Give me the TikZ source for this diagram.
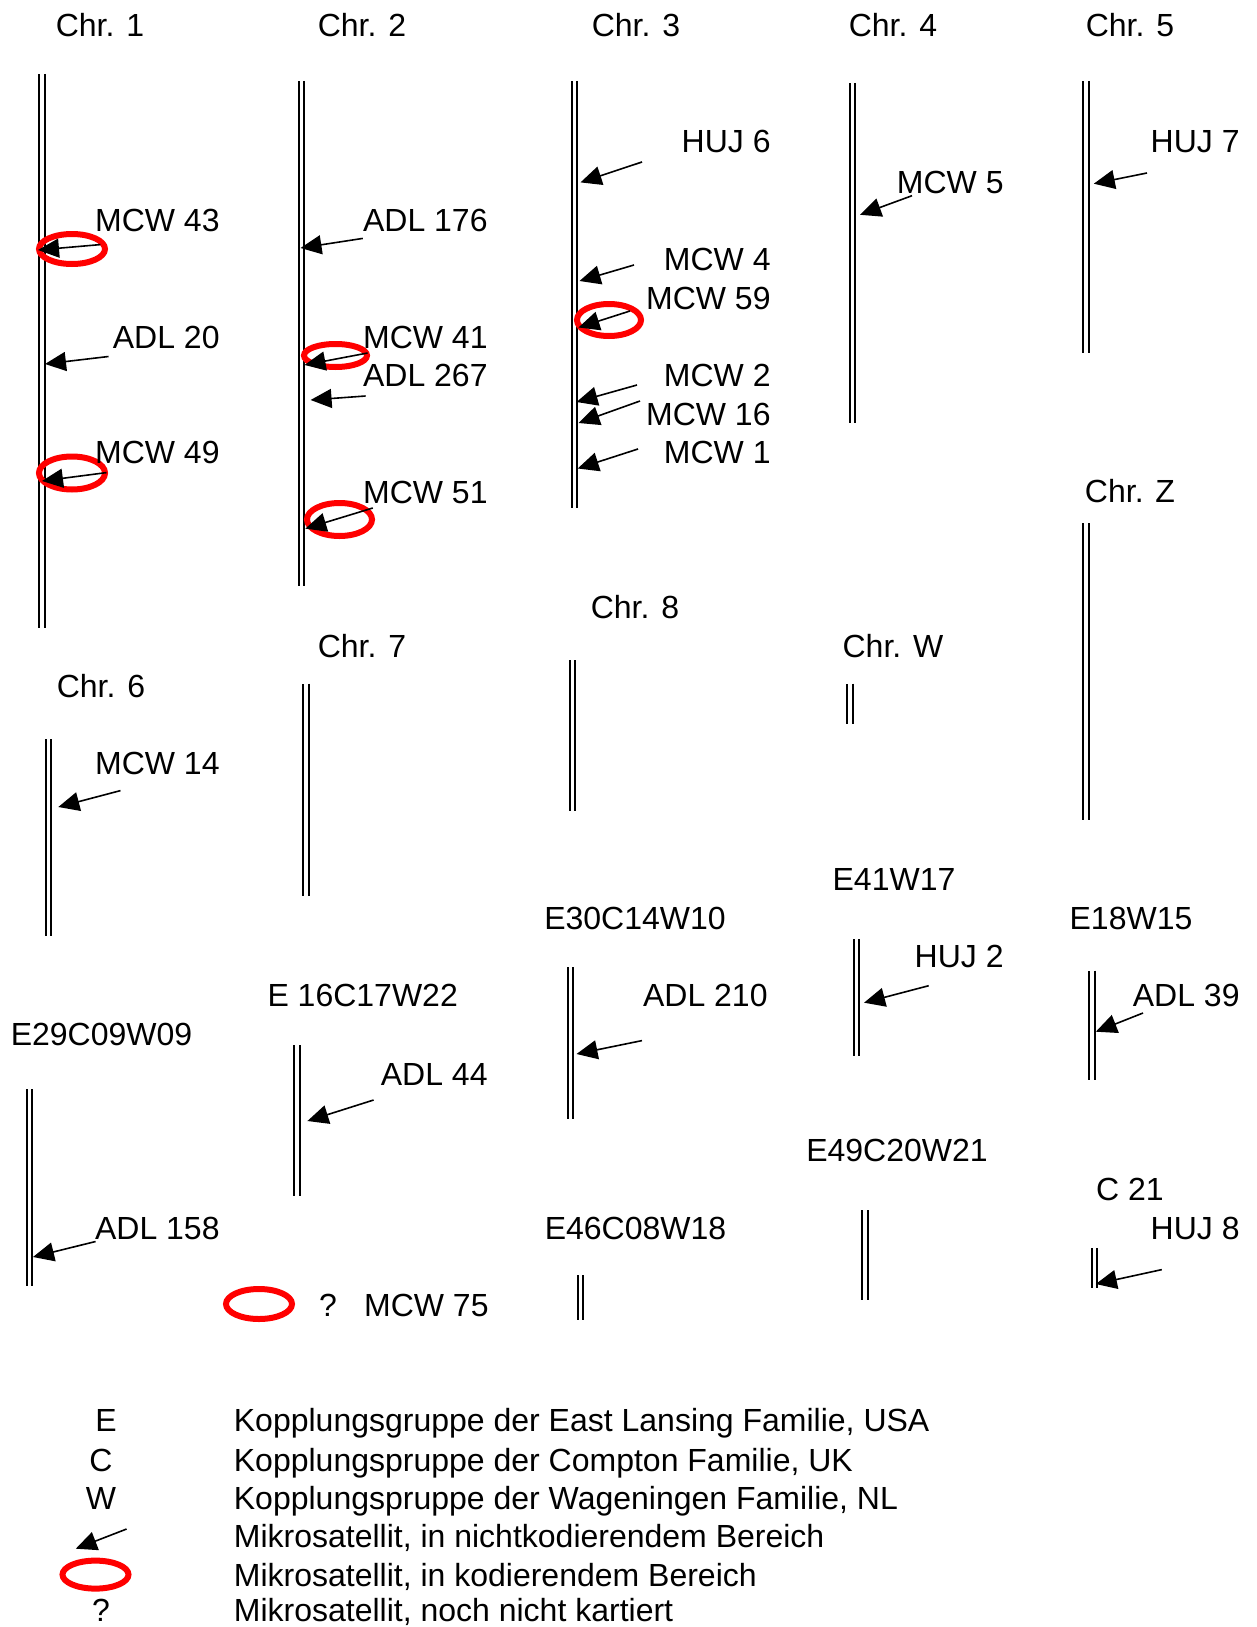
\documentclass[tikz,border=0pt]{standalone}
\usepackage{fontspec}
\setmainfont{Liberation Sans}
\usetikzlibrary{arrows.meta, shapes.geometric}

\begin{document}
\begin{tikzpicture}[
  x=0.5pt, y=-0.5pt,
  lbl/.style={inner sep=0pt, font=\fontsize{16}{19}\selectfont},
  title/.style={lbl, anchor=base},
  marker/.style={lbl, anchor=base east},
  legtext/.style={lbl, anchor=base west},
  chrom/.style={double, line width=1pt, double distance=1.7pt},
  coding/.style={ellipse, draw=red, line width=3pt, minimum width=33pt, minimum height=15pt, inner sep=0pt},
  arrow/.style={-{Triangle[length=10.5pt, width=9.5pt]}, line width=0.8pt}
]
\useasboundingbox (0,0) rectangle (1257,1627);

% titles
\node[title] (chr1) at (100,37) {Chr. 1};
\node[title] (chr2) at (362,37) {Chr. 2};
\node[title] (chr3) at (636,37) {Chr. 3};
\node[title] (chr4) at (893,37) {Chr. 4};
\node[title] (chr5) at (1130,37) {Chr. 5};
\node[title] (chrZ) at (1130,502) {Chr. Z};
\node[title] (chr8) at (635,618) {Chr. 8};
\node[title] (chr7) at (362,657.5) {Chr. 7};
\node[title] (chrW) at (893,657.5) {Chr. W};
\node[title] (chr6) at (101,697) {Chr. 6};
\node[title] (e41) at (894,890) {E41W17};
\node[title] (e30) at (635,929) {E30C14W10};
\node[title] (e18) at (1131,929) {E18W15};
\node[title] (e16) at (362.7,1006) {E 16C17W22};
\node[title] (e29) at (101.5,1045) {E29C09W09};
\node[title] (e49) at (897,1161) {E49C20W21};
\node[title] (c21) at (1130,1200) {C 21};
\node[title] (e46) at (635.5,1239) {E46C08W18};

% chromosomes
\draw[chrom] (42,74) -- (42,628);
\draw[chrom] (301.3,81) -- (301.3,586);
\draw[chrom] (574.5,81) -- (574.5,508);
\draw[chrom] (852.4,83) -- (852.4,423);
\draw[chrom] (1085.8,81) -- (1085.8,353);
\draw[chrom] (1085.8,523) -- (1085.8,820);
\draw[chrom] (48.2,739) -- (48.2,936);
\draw[chrom] (306,683.5) -- (306,895.5);
\draw[chrom] (572.5,660) -- (572.5,811);
\draw[chrom] (849.9,683.5) -- (849.9,724);
\draw[chrom] (856.5,939) -- (856.5,1056);
\draw[chrom] (1091.8,970.5) -- (1091.8,1079.5);
\draw[chrom] (570.5,967) -- (570.5,1119);
\draw[chrom] (297.1,1045) -- (297.1,1195.5);
\draw[chrom] (29.5,1089) -- (29.5,1286);
\draw[chrom] (865,1210) -- (865,1300);
\draw[chrom] (1094.3,1248) -- (1094.3,1288);
\draw[chrom] (580.2,1275) -- (580.2,1320);

% coding microsatellites
\node[coding] (o43) at (72,249) {};
\node[coding, minimum height=16.5pt] (o49) at (72,473) {};
\node[coding, minimum width=31.5pt, minimum height=11.5pt] (o41) at (335.5,355.5) {};
\node[coding, minimum width=32.5pt, minimum height=16.5pt] (o51) at (339.5,519.5) {};
\node[coding, minimum width=32pt, minimum height=16pt] (o59) at (609,320) {};
\node[coding] (o75) at (259,1304) {};

% marker labels
\node[marker] (mcw43) at (220,231) {MCW 43};
\node[marker] (adl20) at (220,348) {ADL 20};
\node[marker] (mcw49) at (220,463) {MCW 49};
\node[marker] (adl176) at (488,231) {ADL 176};
\node[marker] (mcw41) at (488,348) {MCW 41};
\node[marker] (adl267) at (488,386) {ADL 267};
\node[marker] (mcw51) at (488,503) {MCW 51};
\node[marker] (huj6) at (771,153) {HUJ 6};
\node[marker] (mcw4) at (771,270) {MCW 4};
\node[marker] (mcw59) at (771,309) {MCW 59};
\node[marker] (mcw2) at (771,386) {MCW 2};
\node[marker] (mcw16) at (771,425) {MCW 16};
\node[marker] (mcw1) at (771,463) {MCW 1};
\node[marker] (mcw5) at (1004,193) {MCW 5};
\node[marker] (huj7) at (1240,153) {HUJ 7};
\node[marker] (mcw14) at (220,774) {MCW 14};
\node[marker] (huj2) at (1004,967) {HUJ 2};
\node[marker] (adl210) at (768,1006) {ADL 210};
\node[marker] (adl39) at (1240,1006) {ADL 39};
\node[marker] (adl44) at (488,1085) {ADL 44};
\node[marker] (adl158) at (220,1239) {ADL 158};
\node[marker] (huj8) at (1240,1239) {HUJ 8};
\node[marker] (mcw75) at (489,1316) {MCW 75};
\node[title] (q75) at (328,1316) {?};

% arrow ends
\coordinate (s43) at (100.4,244.6);   \coordinate (t43) at (38,250);
\coordinate (s20) at (108.5,356.5);   \coordinate (t20) at (45,364);
\coordinate (s49) at (106.5,472.6);   \coordinate (t49) at (42,481);
\coordinate (s176) at (362.8,238.4);  \coordinate (t176) at (300.5,248);
\coordinate (s41) at (367.6,353);     \coordinate (t41) at (304.5,365);
\coordinate (s267) at (365.6,396);    \coordinate (t267) at (310.6,400);
\coordinate (s51) at (372.8,508);     \coordinate (t51) at (305.3,528.6);
\coordinate (sh6) at (642,162);       \coordinate (th6) at (580.5,182.4);
\coordinate (s4) at (634,265);        \coordinate (t4) at (579.5,281);
\coordinate (s59) at (630,311);       \coordinate (t59) at (578.5,327.5);
\coordinate (s2) at (637,385);        \coordinate (t2) at (576.5,402);
\coordinate (s16) at (640,401);       \coordinate (t16) at (578.5,423);
\coordinate (s1) at (638,449);        \coordinate (t1) at (577.7,468.5);
\coordinate (s5) at (912,195.7);      \coordinate (t5) at (860,214.8);
\coordinate (sh7) at (1147,173);      \coordinate (th7) at (1093.8,183.7);
\coordinate (s14) at (120.5,790.6);   \coordinate (t14) at (58.3,807);
\coordinate (s158) at (95.6,1241.5);  \coordinate (t158) at (33,1257);
\coordinate (s44) at (373.6,1100);    \coordinate (t44) at (307.4,1121);
\coordinate (s210) at (642,1040.6);   \coordinate (t210) at (576.5,1054);
\coordinate (sh2) at (928.7,985.7);   \coordinate (th2) at (864,1002.7);
\coordinate (s39) at (1143,1013);     \coordinate (t39) at (1095.8,1031.7);
\coordinate (sh8) at (1161.8,1269.6); \coordinate (th8) at (1095.8,1284);

\draw[arrow] (s43) -- (t43);
\draw[arrow] (s20) -- (t20);
\draw[arrow] (s49) -- (t49);
\draw[arrow] (s176) -- (t176);
\draw[arrow] (s41) -- (t41);
\draw[arrow] (s267) -- (t267);
\draw[arrow] (s51) -- (t51);
\draw[arrow] (sh6) -- (th6);
\draw[arrow] (s4) -- (t4);
\draw[arrow] (s59) -- (t59);
\draw[arrow] (s2) -- (t2);
\draw[arrow] (s16) -- (t16);
\draw[arrow] (s1) -- (t1);
\draw[arrow] (s5) -- (t5);
\draw[arrow] (sh7) -- (th7);
\draw[arrow] (s14) -- (t14);
\draw[arrow] (s158) -- (t158);
\draw[arrow] (s44) -- (t44);
\draw[arrow] (s210) -- (t210);
\draw[arrow] (sh2) -- (th2);
\draw[arrow] (s39) -- (t39);
\draw[arrow] (sh8) -- (th8);

% legend
\node[title] (keyE) at (106,1431.5) {E};
\node[title] (keyC) at (101,1471) {C};
\node[title] (keyW) at (101,1509.5) {W};
\coordinate (keyAs) at (126.6,1529);
\coordinate (keyAt) at (75.8,1548.7);
\draw[arrow] (keyAs) -- (keyAt);
\node[coding, minimum height=14pt] (keyO) at (95.5,1574.6) {};
\node[title] (keyQ) at (101,1621) {?};
\node[legtext] (txtE) at (233.5,1431.5) {Kopplungsgruppe der East Lansing Familie, USA};
\node[legtext] (txtC) at (233.5,1471) {Kopplungspruppe der Compton Familie, UK};
\node[legtext] (txtW) at (233.5,1509.5) {Kopplungspruppe der Wageningen Familie, NL};
\node[legtext] (txtA) at (233.5,1547.5) {Mikrosatellit, in nichtkodierendem Bereich};
\node[legtext] (txtO) at (233.5,1586) {Mikrosatellit, in kodierendem Bereich};
\node[legtext] (txtQ) at (233.5,1621) {Mikrosatellit, noch nicht kartiert};

\end{tikzpicture}
\end{document}
